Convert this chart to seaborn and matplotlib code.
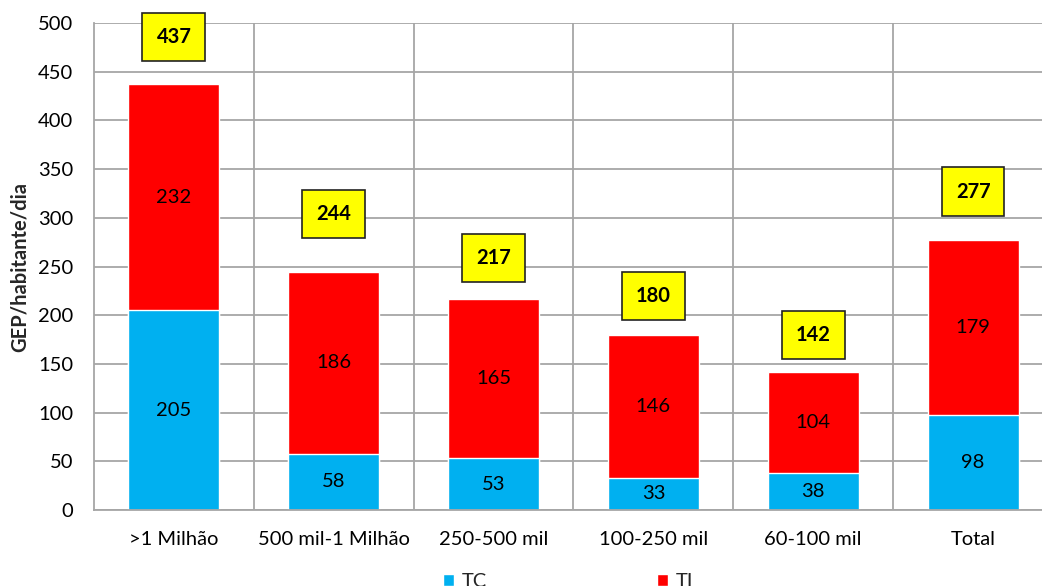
import matplotlib
matplotlib.use("Agg")
import matplotlib.pyplot as plt
from matplotlib.patches import Patch
from matplotlib.ticker import FixedLocator
import seaborn as sns
import pandas as pd

# Population size classes and daily GEP per inhabitant
categories = [">1 Milhão", "500 mil-1 Milhão", "250-500 mil", "100-250 mil", "60-100 mil", "Total"]
tc_values = [205, 58, 53, 33, 38, 98]
ti_values = [232, 186, 165, 146, 104, 179]
totals = [437, 244, 217, 180, 142, 277]

# vertical placement of the total boxes (data units)
box_y = [486, 304, 259, 220, 180, 327]

sns.set_theme(style="white")
plt.rcParams["font.family"] = ["Lato", "DejaVu Sans"]

df = pd.DataFrame({"cat": categories, "TC": tc_values, "TI": ti_values, "total": totals})

fig = plt.figure(figsize=(10.42, 5.86), dpi=100)
ax = fig.add_axes([94 / 1042, 76 / 586, 959 / 1042, 487 / 586])

blue = "#00B0F0"
red = "#FF0000"
sns.barplot(data=df, x="cat", y="total", color=red, width=0.57, saturation=1, ax=ax, zorder=3)
sns.barplot(data=df, x="cat", y="TC", color=blue, width=0.57, saturation=1, ax=ax, zorder=3)

ax.set_ylim(0, 500)
ax.set_xlim(-0.5, len(categories) - 0.5)
ax.set_yticks(range(0, 501, 50))
ax.xaxis.set_minor_locator(FixedLocator([i + 0.5 for i in range(len(categories))]))
ax.grid(True, axis="y", which="major", color="#A6A6A6", linewidth=1.3, zorder=0)
ax.grid(True, axis="x", which="minor", color="#A6A6A6", linewidth=1.3, zorder=0)
ax.grid(False, axis="x", which="major")
ax.tick_params(axis="both", which="both", length=0, labelsize=14.5, colors="black")
ax.tick_params(axis="x", pad=15)
ax.tick_params(axis="y", pad=15)
for s in ["top", "right"]:
    ax.spines[s].set_visible(False)
for s in ["left", "bottom"]:
    ax.spines[s].set_color("#A6A6A6")
    ax.spines[s].set_linewidth(1.3)
    ax.spines[s].set_zorder(4)

ax.set_xlabel("")
ax.set_ylabel("GEP/habitante/dia", fontsize=14.5, fontweight="bold", labelpad=6)

for i, (tc, ti, tot) in enumerate(zip(tc_values, ti_values, totals)):
    ax.text(i, tc / 2, f"{tc}", ha="center", va="center", fontsize=14.5, color="black", zorder=5)
    ax.text(i, tc + (tot - tc) / 2, f"{ti}", ha="center", va="center", fontsize=14.5, color="black", zorder=5)
    ax.text(i, box_y[i], f"{tot}", ha="center", va="center", fontsize=14.5, fontweight="bold",
            color="black", zorder=6,
            bbox=dict(boxstyle="square,pad=0.7", facecolor="#FFFF00", edgecolor="#222222", linewidth=1.2))

handles = [Patch(facecolor=blue, label="TC"), Patch(facecolor=red, label="TI")]
fig.legend(handles=handles, loc="upper left", bbox_to_anchor=(433 / 1042, 1 - 563 / 586), ncol=2,
           frameon=False, fontsize=14.5, handlelength=0.55, handleheight=0.55, handletextpad=0.4,
           columnspacing=8.4, borderpad=0)

fig.savefig("out.png", dpi=100)
